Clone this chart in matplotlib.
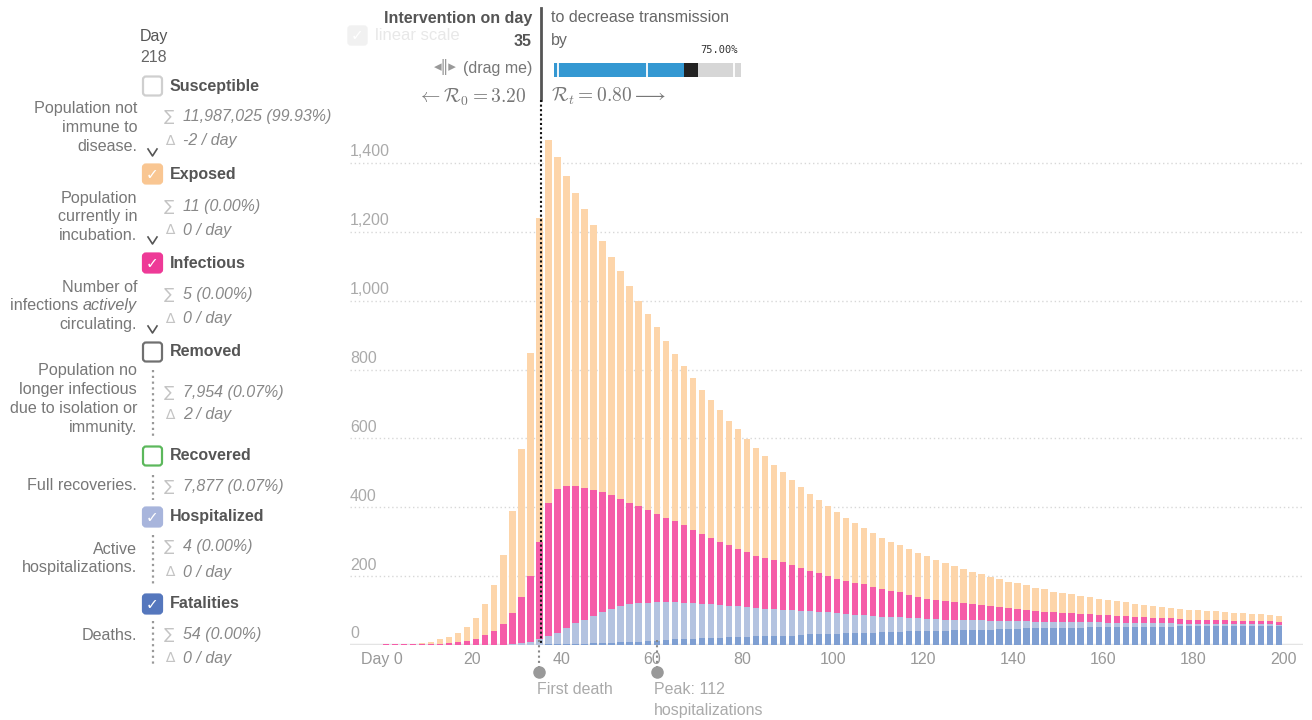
"""
Epidemic calculator snapshot: stacked daily bars (fatalities, hospitalized,
infectious, exposed) with the compartment legend on the left.
"""

import matplotlib
matplotlib.use("Agg")
import matplotlib.pyplot as plt
import numpy as np
from matplotlib.patches import FancyBboxPatch, Rectangle
from matplotlib.transforms import blended_transform_factory

plt.rcParams["font.family"] = ["Liberation Sans", "DejaVu Sans"]

# ---------------------------------------------------------------------------
# Data
# ---------------------------------------------------------------------------
DAYS = list(range(1, 200, 2))

EXPOSED = [
    0, 0, 1, 2, 3, 6, 12, 18, 28, 38,
    61, 89, 134, 200, 297, 430, 648, 943, 1055, 964,
    901, 852, 809, 771, 731, 693, 662, 630, 596, 570,
    542, 515, 486, 461, 441, 420, 402, 384, 362, 348,
    328, 313, 297, 278, 262, 246, 235, 225, 212, 203,
    194, 184, 174, 165, 156, 150, 142, 136, 133, 127,
    123, 117, 112, 105, 100, 93, 88, 84, 80, 76,
    74, 72, 67, 65, 59, 58, 55, 53, 51, 47,
    45, 43, 41, 37, 36, 34, 33, 31, 29, 28,
    27, 27, 25, 25, 23, 22, 20, 19, 18, 17,
]
INFECTIOUS = [
    2, 2, 2, 2, 3, 3, 4, 6, 8, 13,
    17, 29, 41, 61, 90, 133, 189, 280, 385, 418,
    412, 399, 383, 365, 346, 331, 311, 294, 283, 269,
    257, 245, 236, 225, 213, 202, 192, 183, 176, 165,
    160, 151, 146, 142, 137, 131, 125, 117, 111, 106,
    101, 96, 93, 89, 85, 80, 78, 74, 67, 63,
    59, 55, 53, 50, 49, 47, 45, 43, 41, 38,
    35, 32, 31, 29, 28, 27, 26, 24, 23, 22,
    22, 20, 18, 18, 16, 15, 14, 14, 14, 12,
    12, 12, 12, 11, 10, 11, 10, 10, 9, 9,
]
HOSPITALIZED = [
    0, 0, 0, 0, 0, 0, 0, 0, 0, 0,
    0, 0, 0, 0, 2, 5, 10, 18, 25, 33,
    47, 59, 70, 80, 92, 98, 103, 108, 111, 111,
    112, 109, 108, 107, 104, 100, 97, 96, 92, 89,
    87, 83, 81, 78, 77, 74, 69, 67, 66, 63,
    60, 56, 54, 52, 49, 44, 41, 41, 38, 37,
    34, 33, 32, 31, 29, 28, 27, 26, 24, 24,
    23, 21, 20, 20, 19, 18, 17, 16, 15, 15,
    14, 13, 13, 12, 11, 10, 10, 10, 8, 8,
    8, 7, 7, 6, 6, 5, 5, 5, 5, 4,
]
FATALITIES = [
    0, 0, 0, 0, 0, 0, 0, 0, 0, 0,
    0, 0, 0, 0, 0, 0, 0, 0, 2, 3,
    3, 4, 4, 5, 5, 6, 9, 10, 10, 12,
    12, 15, 16, 16, 17, 20, 21, 21, 22, 24,
    24, 25, 25, 26, 26, 27, 30, 31, 31, 32,
    32, 34, 34, 35, 35, 38, 39, 39, 40, 40,
    42, 42, 42, 43, 43, 44, 45, 45, 46, 46,
    47, 48, 48, 48, 49, 49, 50, 50, 51, 51,
    51, 52, 52, 52, 53, 53, 53, 53, 54, 54,
    54, 54, 54, 55, 55, 55, 55, 55, 55, 55,
]

X_TICKS = [0, 20, 40, 60, 80, 100, 120, 140, 160, 180, 200]
X_TICK_LABELS = ["Day 0", "20", "40", "60", "80", "100", "120", "140", "160", "180", "200"]
Y_TICKS = [0, 200, 400, 600, 800, 1000, 1200, 1400]
Y_TICK_LABELS = ["0", "200", "400", "600", "800", "1,000", "1,200", "1,400"]

INTERVENTION_DAY = 35
FIRST_DEATH_DAY = 35
PEAK_HOSP_DAY = 61

STATES = ["Susceptible", "Exposed", "Infectious", "Removed",
          "Recovered", "Hospitalized", "Fatalities"]
DESCRIPTIONS = [
    ["Population not", "immune to", "disease."],
    ["Population", "currently in", "incubation."],
    ["Number of", "infections |actively", "circulating."],
    ["Population no", "longer infectious", "due to isolation or", "immunity."],
    ["Full recoveries."],
    ["Active", "hospitalizations."],
    ["Deaths."],
]
TOTALS = ["11,987,025 (99.93%)", "11 (0.00%)", "5 (0.00%)", "7,954 (0.07%)",
          "7,877 (0.07%)", "4 (0.00%)", "54 (0.00%)"]
DELTAS = ["-2 / day", "0 / day", "0 / day", "2 / day", None, "0 / day", "0 / day"]

# ---------------------------------------------------------------------------
# Styling
# ---------------------------------------------------------------------------
C_EXPOSED = "#fdd5aa"
C_INFECTIOUS = "#f55ca8"
C_HOSP = "#b4c3e0"
C_FATAL = "#7f9fd2"

BOX_STYLE = {
    "Susceptible": ("white", "#cfcfcf", False),
    "Exposed": ("#f9c692", "#f9c692", True),
    "Infectious": ("#ee3a97", "#ee3a97", True),
    "Removed": ("white", "#707070", False),
    "Recovered": ("white", "#5cb85c", False),
    "Hospitalized": ("#a8b5dc", "#a8b5dc", True),
    "Fatalities": ("#5577bd", "#5577bd", True),
}

BOX_Y = [86, 174, 263, 352, 456, 517, 604]
DESC_Y = [109, 198, 287, 371, 486, 549, 635]
SUM_Y = [117, 206, 295, 392, 486, 547, 634]
DELTA_Y = [141, 230, 319, 415, None, 572, 658]
CHEVRON_Y = [152, 240, 329]
DOTTED_SPANS = [(370, 438), (475, 500), (535, 586), (621, 666)]

W, H = 1312, 720
fig = plt.figure(figsize=(W / 100, H / 100), dpi=100)

# main chart axes: 0 at y=645 px, 1400 at y=163 px
px_per_unit = (645 - 163) / 1400
y_top = (645 - 8) / px_per_unit
x_left, x_right = -7.0, 204.3
ax = fig.add_axes([350 / W, (H - 645) / H, (1303 - 350) / W, (645 - 8) / H])
ax.set_xlim(x_left, x_right)
ax.set_ylim(0, y_top)

fat = np.array(FATALITIES)
hosp = np.array(HOSPITALIZED)
inf = np.array(INFECTIOUS)
exp_ = np.array(EXPOSED)
bw = 1.4
ax.bar(DAYS, fat, width=bw, color=C_FATAL, zorder=2)
ax.bar(DAYS, hosp, width=bw, bottom=fat, color=C_HOSP, zorder=2)
ax.bar(DAYS, inf, width=bw, bottom=fat + hosp, color=C_INFECTIOUS, zorder=2)
ax.bar(DAYS, exp_, width=bw, bottom=fat + hosp + inf, color=C_EXPOSED, zorder=2)

ax.hlines(Y_TICKS[1:], x_left, x_right, colors="#d8d8d8", linestyles=(0, (1, 2)),
          lw=1, zorder=1)
ax.axhline(0, color="#e4e4e4", lw=2.5, zorder=1)
for v, lab in zip(Y_TICKS, Y_TICK_LABELS):
    ax.annotate(lab, (x_left, v), xytext=(0, 11), textcoords="offset pixels",
                ha="left", va="center", fontsize=11.5, color="#aaaaaa")

for s in ax.spines.values():
    s.set_visible(False)
ax.set_yticks([])
ax.set_xticks(X_TICKS)
ax.set_xticklabels(X_TICK_LABELS)
ax.tick_params(axis="x", length=0, pad=5, labelsize=11.5, labelcolor="#999999")

# overlay in pixel coordinates for the panel texts
ov = fig.add_axes([0, 0, 1, 1])
ov.set_xlim(0, W)
ov.set_ylim(H, 0)
ov.axis("off")
trans = blended_transform_factory(ax.transData, ov.transData)

# intervention line and event markers
ov.plot([INTERVENTION_DAY + 0.4] * 2, [8, 100], transform=trans, color="#555555", lw=2)
ov.plot([INTERVENTION_DAY + 0.4] * 2, [100, 645], transform=trans, color="#111111",
        lw=1.5, ls=(0, (1, 1.2)))
for d in (FIRST_DEATH_DAY, PEAK_HOSP_DAY):
    ov.plot([d, d], [640, 672], transform=trans, color="#888888", lw=1.5, ls=(0, (1, 1.5)))
    ov.plot([d], [672], transform=trans, marker="o", ms=8, color="#999999")
ov.text(FIRST_DEATH_DAY - 0.6, 690, "First death", transform=trans, ha="left",
        va="center", fontsize=11.5, color="#aaaaaa")
ov.text(PEAK_HOSP_DAY - 0.6, 690, "Peak: 112", transform=trans, ha="left",
        va="center", fontsize=11.5, color="#aaaaaa")
ov.text(PEAK_HOSP_DAY - 0.6, 710, "hospitalizations", transform=trans, ha="left",
        va="center", fontsize=11.5, color="#aaaaaa")

# top controls
ov.add_patch(FancyBboxPatch((348, 26), 19, 19, boxstyle="round,pad=0,rounding_size=3",
                            fc="#f1f1f1", ec="#f1f1f1"))
ov.text(357.5, 36, "✓", ha="center", va="center", fontsize=11, color="white",
        family="DejaVu Sans")
ov.text(375, 35, "linear scale", ha="left", va="center", fontsize=12, color="#e8e8e8")

ov.text(532, 18, "Intervention on day", ha="right", va="center", fontsize=11.5,
        fontweight="bold", color="#555555")
ov.text(532, 41, "35", ha="right", va="center", fontsize=11.5, fontweight="bold",
        color="#555555")
ov.text(532, 68, "(drag me)", ha="right", va="center", fontsize=11.5, color="#777777")
ov.text(445, 67, "◂‖▸", ha="center", va="center", fontsize=11, color="#999999",
        family="DejaVu Sans")
ov.text(526, 97, r"$\leftarrow \mathcal{R}_0 = 3.20$", ha="right", va="center",
        fontsize=14, color="#777777", math_fontfamily="cm")

ov.text(551, 18, "to decrease transmission", ha="left", va="center", fontsize=11.5,
        color="#666666")
ov.text(551, 40, "by", ha="left", va="center", fontsize=11.5, color="#666666")
ov.text(738, 50, "75.00%", ha="right", va="center", fontsize=7.5, color="#333333",
        family="DejaVu Sans Mono")
ov.add_patch(Rectangle((554, 63), 130, 14, fc="#3498d2", ec="none"))
ov.add_patch(Rectangle((684, 63), 13.5, 14, fc="#222222", ec="none"))
ov.add_patch(Rectangle((697.5, 63), 43.5, 14, fc="#d6d6d6", ec="none"))
for xs in (558, 647, 734):
    ov.plot([xs, xs], [63, 77], color="white", lw=1.3)
ov.text(551, 96, r"$\mathcal{R}_t = 0.80 \longrightarrow$", ha="left", va="center",
        fontsize=14, color="#777777", math_fontfamily="cm")

# left legend panel
ov.text(140, 36, "Day", ha="left", va="center", fontsize=11.5, color="#555555")
ov.text(140, 57, "218", ha="left", va="center", fontsize=11.5, color="#666666")

fig.canvas.draw()
renderer = fig.canvas.get_renderer()
line_h = 18.7
for i, name in enumerate(STATES):
    fc, ec, checked = BOX_STYLE[name]
    by = BOX_Y[i]
    ov.add_patch(FancyBboxPatch((143, by - 9.5), 19, 19,
                                boxstyle="round,pad=0,rounding_size=3",
                                fc=fc, ec=ec, lw=1.6))
    if checked:
        ov.text(152.5, by + 0.5, "✓", ha="center", va="center", fontsize=11,
                color="white", family="DejaVu Sans")
    ov.text(170, by, name, ha="left", va="center", fontsize=11.5,
            fontweight="bold", color="#555555")

    for j, line in enumerate(DESCRIPTIONS[i]):
        ly = DESC_Y[i] + j * line_h
        if "|" in line:
            plain, emph = line.split("|")
            t = ov.text(137, ly, emph, ha="right", va="center", fontsize=11.6,
                        style="italic", color="#777777")
            wpx = t.get_window_extent(renderer).width
            ov.text(137 - wpx, ly, plain, ha="right", va="center", fontsize=11.6,
                    color="#777777")
        else:
            ov.text(137, ly, line, ha="right", va="center", fontsize=11.6,
                    color="#777777")

    ov.text(164, SUM_Y[i], "∑", ha="left", va="center", fontsize=11,
            color="#c4c4c4", family="DejaVu Sans")
    ov.text(183, SUM_Y[i], TOTALS[i], ha="left", va="center", fontsize=11.5,
            style="italic", color="#888888")
    if DELTAS[i] is not None:
        ov.text(165, DELTA_Y[i], "∆", ha="left", va="center", fontsize=10,
                color="#c4c4c4", family="DejaVu Sans")
        ov.text(183, DELTA_Y[i], DELTAS[i], ha="left", va="center", fontsize=11.5,
                style="italic", color="#888888")

for cy in CHEVRON_Y:
    ov.plot([148, 152.5, 157], [cy - 3, cy + 4, cy - 3], color="#555555", lw=1.2)
for y0, y1 in DOTTED_SPANS:
    ov.plot([152.5, 152.5], [y0, y1], color="#999999", lw=1.6, ls=(0, (1, 1.6)))

fig.savefig("out.png", dpi=100)
